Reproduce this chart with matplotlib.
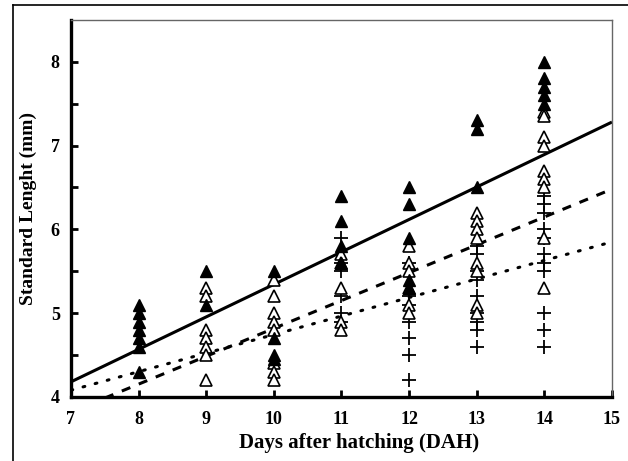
import matplotlib
matplotlib.use("Agg")
import matplotlib.pyplot as plt
from matplotlib.lines import Line2D

# --- Daten ---
tage = [8, 9, 10, 11, 12, 13, 14]

# gefüllte Dreiecke
voll = {
    8: [5.1, 5.0, 4.9, 4.8, 4.7, 4.6, 4.3],
    9: [5.5, 5.1],
    10: [5.5, 4.7, 4.5, 4.45],
    11: [6.4, 6.1, 5.8, 5.6],
    12: [6.5, 6.3, 5.9, 5.4, 5.3],
    13: [7.3, 7.2, 6.5],
    14: [8.0, 7.8, 7.7, 7.6, 7.5],
}
# offene Dreiecke
offen = {
    9: [5.3, 5.2, 4.8, 4.7, 4.6, 4.5, 4.2],
    10: [5.4, 5.2, 5.0, 4.9, 4.8, 4.4, 4.3, 4.2],
    11: [5.7, 5.6, 5.3, 4.9, 4.8],
    12: [5.8, 5.6, 5.5, 5.3, 5.1, 5.0],
    13: [6.2, 6.1, 6.0, 5.9, 5.6, 5.5, 5.1, 5.0],
    14: [7.4, 7.35, 7.1, 7.0, 6.7, 6.6, 6.5, 5.9, 5.3],
}
# Kreuze
kreuz = {
    11: [5.9, 5.6, 5.5, 5.2, 5.0, 4.9],
    12: [5.6, 5.2, 5.1, 4.9, 4.7, 4.5, 4.2],
    13: [5.8, 5.7, 5.5, 5.4, 5.2, 5.0, 4.9, 4.8, 4.6],
    14: [6.4, 6.3, 6.2, 6.0, 5.9, 5.7, 5.6, 5.5, 5.0, 4.8, 4.6],
}

# Regressionsgeraden (Endpunkte bei x=7 und x=15)
linie_x = [7, 15]
linie_voll = [4.18, 7.28]
linie_offen = [3.82, 6.48]
linie_kreuz = [4.08, 5.85]

fig = plt.figure(figsize=(6.28, 4.61), dpi=100)
ax = fig.add_axes([0.113, 0.139, 0.8615, 0.818])
plt.rcParams['font.family'] = 'Liberation Serif'

# --- Linien ---
ax.plot(linie_x, linie_voll, color='black', lw=2.2, solid_capstyle='butt', zorder=2)
ax.plot(linie_x, linie_offen, color='black', lw=2.2, ls=(0, (3, 3)), zorder=2)
ax.plot(linie_x, linie_kreuz, color='black', lw=2.2, ls=(0, (0.6, 3.5)), dash_capstyle='round', zorder=2)

# --- Punkte ---
for t in tage:
    if t in kreuz:
        ax.plot([t] * len(kreuz[t]), kreuz[t], ls='none', marker='+', ms=10, mew=1.3, color='black', zorder=3)
    if t in offen:
        ax.plot([t] * len(offen[t]), offen[t], ls='none', marker='^', ms=9, mew=1.2, mfc='white', mec='black', zorder=4)
    if t in voll:
        ax.plot([t] * len(voll[t]), voll[t], ls='none', marker='^', ms=9, color='black', zorder=5)

# --- Achsen ---
ax.set_xlim(7, 15)
ax.set_ylim(4, 8.5)
ax.set_xticks(range(7, 16))
ax.set_yticks([4, 5, 6, 7, 8])
ax.set_yticks([4.5, 5.5, 6.5, 7.5], minor=True)
ax.tick_params(axis='both', which='both', direction='in', length=5, width=2, labelsize=13)
ax.tick_params(axis='y', pad=8)
ax.tick_params(axis='x', pad=10)
for lab in ax.get_xticklabels() + ax.get_yticklabels():
    lab.set_fontweight('bold')
    lab.set_family('Liberation Serif')

for s in ['left', 'bottom']:
    ax.spines[s].set_linewidth(2.4)
for s in ['top', 'right']:
    ax.spines[s].set_linewidth(1.0)
    ax.spines[s].set_color('#666666')

ax.set_xlabel('Days after hatching (DAH)', fontsize=15, fontweight='bold', family='Liberation Serif')
ax.xaxis.set_label_coords(0.533, -0.095)
ax.set_ylabel('Standard Lenght (mm)', fontsize=14, fontweight='bold', family='Liberation Serif', labelpad=10)

# äußerer Rahmen (nur oben und links)
fig.add_artist(Line2D([13 / 628, 1], [1 - 5 / 461, 1 - 5 / 461], color='black', lw=1.2))
fig.add_artist(Line2D([13 / 628, 13 / 628], [0, 1 - 5 / 461], color='black', lw=1.2))

plt.savefig('out.png', dpi=100)
